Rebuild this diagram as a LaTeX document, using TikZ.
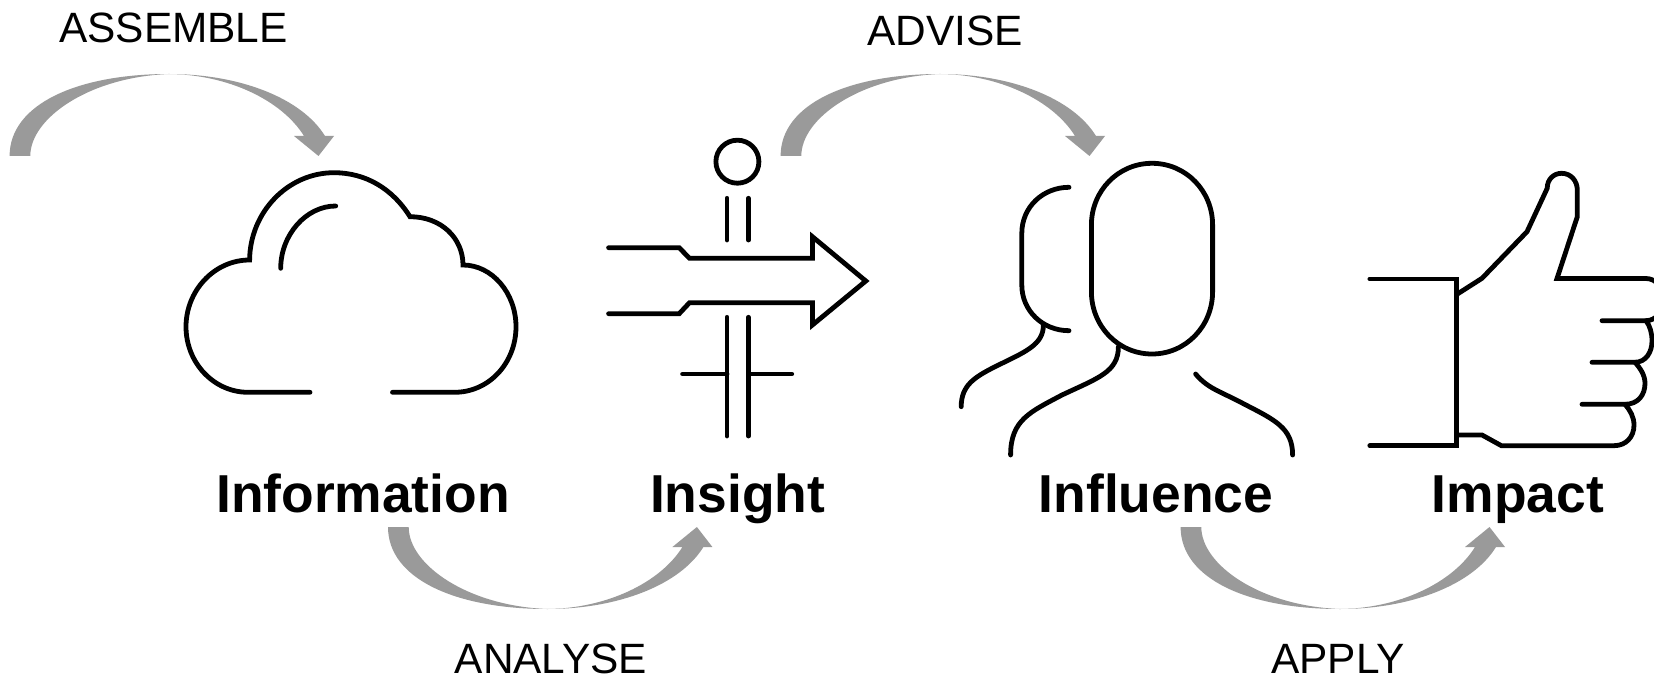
\documentclass[tikz,border=0pt]{standalone}
\usepackage{fontspec}
\setmainfont{Liberation Sans}
\usetikzlibrary{positioning}
\definecolor{swooshgray}{RGB}{154,154,154}
\tikzset{
  icon/.style={line width=2.4pt,line cap=round,line join=miter},
  verb/.style={inner sep=0,anchor=base,font=\fontsize{21.2}{25}\selectfont},
  title/.style={inner sep=0,anchor=base,font=\fontsize{26.7}{32}\selectfont\bfseries},
  swoosh/.pic={
    \fill[swooshgray] (0,0) .. controls (0,-52) and (68,-82) .. (159.4,-82)
      .. controls (230,-82) and (292,-58) .. (315.4,-20)
      -- (324.4,-20) -- (308.9,0) -- (284.4,-20) -- (294.4,-20)
      .. controls (272,-56) and (218,-81.5) .. (159.4,-82)
      .. controls (80,-79) and (20.7,-38) .. (20.7,0) -- cycle;
  }
}

\begin{document}
\begin{tikzpicture}[x=0.5pt,y=-0.5pt]
\useasboundingbox (0,0) rectangle (1654,679);
\clip (0,0) rectangle (1654,679);
% labels
\node[verb](assemble) at (173.5,43) {ASSEMBLE};
\node[verb](advise) at (945,46) {ADVISE};
\node[verb](analyse) at (551,673) {ANALYSE};
\node[verb](apply) at (1338,673) {APPLY};
\node[title](information) at (363,512.5) {Information};
\node[title](insight) at (737.5,512.5) {Insight};
\node[title](influence) at (1156,512.5) {Influence};
\node[title](impact) at (1518,512.5) {Impact};
% arrows
\coordinate (assembleStart) at (9.6,156);
\coordinate (adviseStart) at (780.6,156);
\coordinate (analyseStart) at (388,527);
\coordinate (applyStart) at (1180.6,527);
\pic at (assembleStart) {swoosh};
\pic at (adviseStart) {swoosh};
\pic[yscale=-1] at (analyseStart) {swoosh};
\pic[yscale=-1] at (applyStart) {swoosh};
% cloud
\draw[icon] (310,392.3) -- (248,392.3)
  .. controls (214,392.3) and (186,363) .. (186,326.7)
  .. controls (186,291) and (214,260) .. (249.6,260)
  .. controls (250,212) and (288,172.7) .. (334,172.7)
  .. controls (365,172.7) and (392,188) .. (410,216.7)
  .. controls (441,216.7) and (463,238) .. (463,265)
  .. controls (492,265) and (516,293) .. (516,326.7)
  .. controls (516,363) and (489,392.3) .. (454.5,392.3)
  -- (392.5,392.3);
\draw[icon] (335.7,206) .. controls (306,206) and (280.7,235) .. (280.7,268.3);
% insight
\draw[icon] (737.4,161.7) circle[radius=21.5];
\draw[icon] (727,198.3) -- (727,240);
\draw[icon] (748.4,198.3) -- (748.4,240);
\draw[icon] (608.6,247.7) -- (679.2,247.7) -- (689.5,258.3) -- (812.4,258.3) -- (812.4,236.7)
  -- (865.8,281) -- (812.4,325) -- (812.4,302.7) -- (689.5,302.7) -- (679.2,313.7) -- (608.6,313.7);
\draw[icon] (727,317.3) -- (727,436);
\draw[icon] (748.4,317.3) -- (748.4,436);
\draw[icon] (682.6,374) -- (727,374);
\draw[icon] (748.4,374) -- (791.8,374);
% people
\draw[icon] (1091.4,225) .. controls (1091.4,191) and (1118,163.3) .. (1152,163.3)
  .. controls (1186,163.3) and (1212.6,191) .. (1212.6,225) -- (1212.6,291.7)
  .. controls (1212.6,326) and (1186,354) .. (1152,354)
  .. controls (1118,354) and (1091.4,326) .. (1091.4,291.7) -- cycle;
\draw[icon] (1069,187.3) .. controls (1043,187.3) and (1021.8,207) .. (1021.8,233.3) -- (1021.8,285)
  .. controls (1021.8,311) and (1043,330.7) .. (1069,330.7);
\draw[icon] (1043.4,325) .. controls (1043.4,345) and (1025,352) .. (995,366.7)
  .. controls (975,377) and (961.2,385) .. (961.2,406.7);
\draw[icon] (1118.4,346.7) .. controls (1118.4,372) and (1098,378) .. (1062,395)
  .. controls (1030,412) and (1010.6,420) .. (1010.6,455);
\draw[icon] (1195.6,374) .. controls (1208,389) and (1222,392) .. (1244,404)
  .. controls (1275,420) and (1292.6,428) .. (1292.6,455);
% thumb
\draw[icon] (1369.8,279) -- (1456.5,279) -- (1456.5,445.7) -- (1369.8,445.7);
\draw[icon] (1457.4,294) -- (1482,278.3) -- (1527,231.7) -- (1547.2,188.3)
  .. controls (1547.2,179) and (1554,173.3) .. (1561.6,173.3)
  .. controls (1571,173.3) and (1577.3,181) .. (1577.3,190)
  -- (1577.3,216.7) -- (1557,278.5) -- (1646,278.5)
  .. controls (1656,278.5) and (1664,288) .. (1664,299)
  .. controls (1664,311) and (1656,320.7) .. (1646,320.7) -- (1602,320.7);
\draw[icon] (1646,320.7) .. controls (1650,326) and (1652,333) .. (1652,341)
  .. controls (1652,352) and (1646,362.3) .. (1634.8,362.3) -- (1592,362.3);
\draw[icon] (1635,362.3) .. controls (1640,368) and (1645,375) .. (1645,383.3)
  .. controls (1645,395) and (1638,404.3) .. (1625,404.3) -- (1582,404.3);
\draw[icon] (1625,404.3) .. controls (1630,410) and (1634,417) .. (1634,425)
  .. controls (1634,437) and (1626,445.7) .. (1614,445.7) -- (1501.4,445.7)
  -- (1482,435) -- (1456.5,435);
\end{tikzpicture}
\end{document}
